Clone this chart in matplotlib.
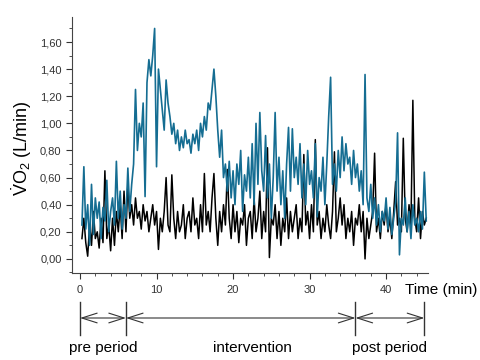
import numpy as np
import matplotlib
matplotlib.use("Agg")
import matplotlib.pyplot as plt
from matplotlib.ticker import MultipleLocator, FuncFormatter

plt.rcParams['font.family'] = ['Liberation Sans', 'DejaVu Sans']
plt.rcParams['mathtext.fontset'] = 'custom'
plt.rcParams['mathtext.rm'] = 'Liberation Sans'

# time in minutes, one sample every 0.25 min
time = np.arange(1, 182) * 0.25

# VO2 (L/min), blue series, 4 values per minute
vo2_blue = [
    0.25, 0.68, 0.22, 0.40,
    0.10, 0.55, 0.18, 0.45,
    0.30, 0.42, 0.15, 0.38,
    0.28, 0.58, 0.20, 0.35,
    0.45, 0.25, 0.72, 0.30,
    0.50, 0.22, 0.40, 0.30,
    0.67, 0.35, 0.55, 0.70,
    1.25, 0.80, 1.00, 0.90,
    1.15, 0.46, 1.30, 1.47,
    1.35, 1.50, 1.70, 0.68,
    1.40, 1.25, 1.10, 0.95,
    1.32, 1.15, 1.05, 0.92,
    1.00, 0.85, 0.95, 0.80,
    0.90, 0.82, 0.95, 0.85,
    0.88, 0.78, 0.92, 0.85,
    0.95, 0.80, 1.00, 0.90,
    1.05, 0.95, 1.15, 1.10,
    1.25, 1.40, 1.20, 0.95,
    0.75, 0.95, 0.60, 0.70,
    0.50, 0.72, 0.45, 0.65,
    0.40, 0.70, 0.55, 0.80,
    0.35, 0.62, 0.50, 0.75,
    0.45, 0.85, 0.40, 1.00,
    0.55, 1.08, 0.65, 0.50,
    0.91, 0.45, 0.70, 0.30,
    0.60, 1.08, 0.50, 0.75,
    0.40, 0.65, 0.30, 0.70,
    0.97, 0.50, 0.96, 0.60,
    0.75, 0.55, 0.85, 0.45,
    0.70, 0.40, 0.80, 0.55,
    0.65, 0.45, 0.85, 0.31,
    0.60, 0.50, 0.75, 0.40,
    0.70, 1.05, 1.34, 0.55,
    0.70, 0.50, 0.80, 0.60,
    0.90, 0.65, 0.85, 0.70,
    0.75, 0.55, 0.80, 0.60,
    0.70, 0.50, 0.65, 0.40,
    1.36, 0.45, 0.35, 0.55,
    0.30, 0.45, 0.25, 0.40,
    0.20, 0.35, 0.28, 0.45,
    0.22, 0.38, 0.18, 0.30,
    0.42, 0.93, 0.03, 0.30,
    0.25, 0.45, 0.20, 0.35,
    0.15, 0.40, 0.25, 0.30,
    0.20, 0.35, 0.22, 0.64,
    0.28,
]

# VO2 (L/min), black series
vo2_black = [
    0.15, 0.30, 0.12, 0.02,
    0.25, 0.10, 0.35, 0.15,
    0.20, 0.08, 0.30, 0.12,
    0.65, 0.15, 0.25, 0.06,
    0.30, 0.10, 0.35, 0.20,
    0.40, 0.15, 0.50, 0.20,
    0.55, 0.30, 0.40, 0.25,
    0.45, 0.30, 0.35, 0.22,
    0.40, 0.28, 0.35, 0.20,
    0.30, 0.40, 0.25, 0.35,
    0.07, 0.30, 0.20, 0.35,
    0.60, 0.25, 0.20, 0.62,
    0.30, 0.15, 0.35, 0.20,
    0.25, 0.40, 0.15, 0.30,
    0.35, 0.20, 0.45, 0.25,
    0.30, 0.15, 0.40, 0.20,
    0.63, 0.25, 0.35, 0.20,
    0.45, 0.63, 0.30, 0.10,
    0.35, 0.20, 0.40, 0.25,
    0.66, 0.30, 0.15, 0.40,
    0.20, 0.35, 0.12, 0.30,
    0.25, 0.40, 0.10, 0.30,
    0.35, 0.15, 0.45, 0.20,
    0.30, 0.50, 0.15, 0.35,
    0.20, 0.82, 0.01, 0.30,
    0.25, 0.40, 0.15, 0.35,
    0.10, 0.30, 0.20, 0.45,
    0.15, 0.35, 0.20, 0.30,
    0.40, 0.15, 0.30, 0.20,
    0.77, 0.25, 0.35, 0.15,
    0.40, 0.20, 0.88, 0.25,
    0.35, 0.15, 0.30, 0.20,
    0.40, 0.25, 0.15, 0.35,
    0.79, 0.20, 0.30, 0.45,
    0.25, 0.40, 0.15, 0.30,
    0.20, 0.35, 0.10, 0.30,
    0.25, 0.40, 0.20, 0.35,
    0.00, 0.30, 0.15, 0.25,
    0.35, 0.78, 0.20, 0.30,
    0.15, 0.35, 0.25, 0.40,
    0.20, 0.30, 0.15, 0.35,
    0.57, 0.25, 0.30, 0.20,
    0.89, 0.30, 0.20, 0.40,
    0.25, 1.17, 0.30, 0.20,
    0.45, 0.15, 0.35, 0.25,
    0.30,
]

# period boundaries (min) and names
bounds = [0, 6, 36, 45]
periods = ["pre period", "intervention", "post period"]
period_label_x = [3, 22.5, 40.5]

fig = plt.figure(figsize=(4.8, 3.6), dpi=100)
ax = fig.add_axes([0.15, 0.242, 0.742, 0.711])

ax.plot(time, vo2_black, color="black", lw=1.1)
ax.plot(time, vo2_blue, color="#156d92", lw=1.2)

ax.set_xlim(-1.05, 45.5)
ax.set_ylim(-0.103, 1.785)
ax.spines['top'].set_visible(False)
ax.spines['right'].set_visible(False)
ax.spines['left'].set_color('#444444')
ax.spines['bottom'].set_color('#444444')

ax.xaxis.set_major_locator(MultipleLocator(10))
ax.xaxis.set_minor_locator(MultipleLocator(2))
ax.yaxis.set_major_locator(MultipleLocator(0.2))
ax.yaxis.set_minor_locator(MultipleLocator(0.1))
ax.yaxis.set_major_formatter(FuncFormatter(lambda v, p: f"{v:.2f}".replace(".", ",")))
ax.tick_params(which='major', direction='out', length=4, width=0.8, labelsize=8, colors='#333333')
ax.tick_params(which='minor', direction='out', length=2, width=0.6, colors='#333333')
ax.tick_params(axis='x', pad=5)

fig.text(0.045, 1 - 148 / 360, r"$\dot{\mathrm{V}}\mathrm{O}_2$ (L/min)", rotation=90,
         ha="center", va="center", fontsize=13)

fig.text(0.995, 1 - 290 / 360, "Time (min)", ha="right", va="center", fontsize=11)

# period annotation strip below the axis
ax2 = fig.add_axes([0.15, 0.0, 0.742, 70 / 360])
ax2.set_xlim(-1.05, 45.5)
ax2.set_ylim(0, 1)
ax2.axis('off')
for b in bounds:
    ax2.plot([b, b], [0.36, 0.83], color="#333333", lw=1.0)
for i in range(len(periods)):
    ax2.annotate("", xy=(bounds[i], 0.6), xytext=(bounds[i + 1], 0.6),
                 arrowprops=dict(arrowstyle="<->,head_length=1.1,head_width=0.35",
                                 lw=0.8, color="#333333", shrinkA=0, shrinkB=0))
    ax2.text(period_label_x[i], 0.17, periods[i], ha="center", va="center", fontsize=11)

fig.savefig("out.png", dpi=100)
